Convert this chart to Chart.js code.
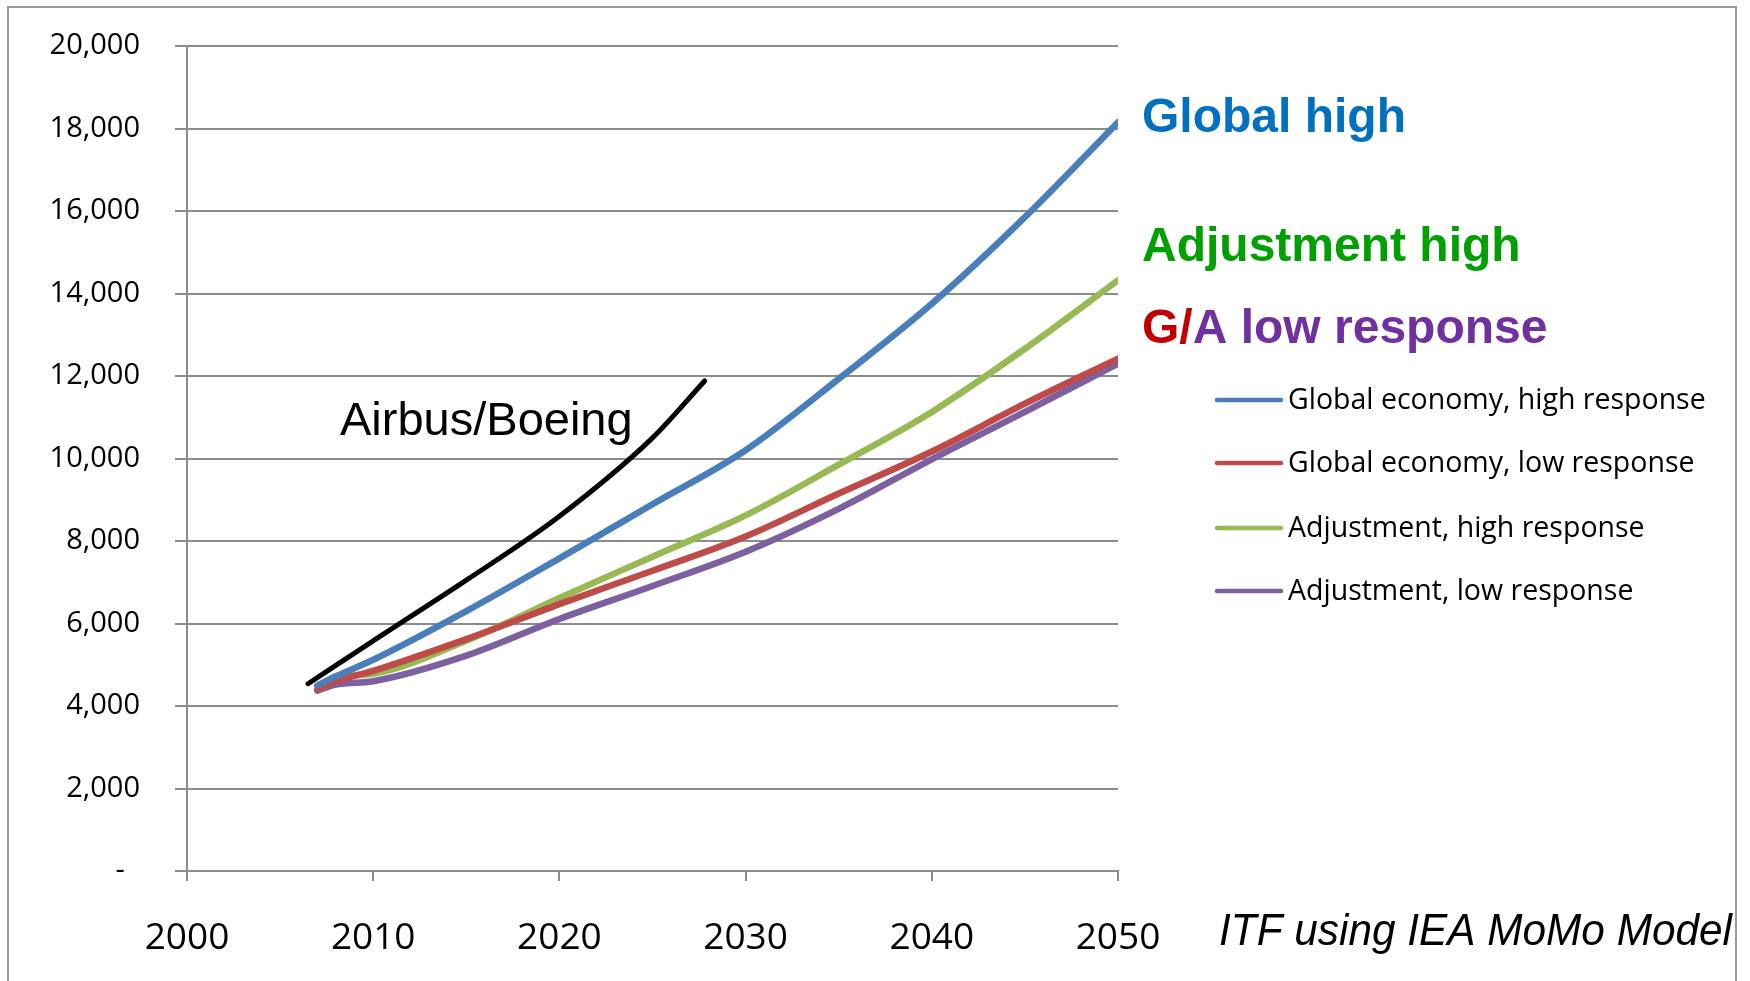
<!DOCTYPE html>
<html>
<head>
<meta charset="utf-8">
<script src="https://cdn.jsdelivr.net/npm/chart.js@4.4.1/dist/chart.umd.min.js"></script>
<style>
  html, body { margin: 0; background: #fff; }
  canvas { display: block; }
</style>
</head>
<body>
<canvas id="chart" width="1750" height="981"></canvas>
<script>
/* Aviation activity projections, 2007–2050 (Excel-style line chart) */

const AXIS = "#8c8c8c";

const years = [2007, 2008, 2010, 2015, 2020, 2025, 2030, 2035, 2040, 2045, 2050];
const globalHigh = [4500, 4720, 5120, 6300, 7580, 8890, 10200, 11930, 13750, 15850, 18150];
const globalLow = [4400, 4600, 4850, 5620, 6470, 7280, 8110, 9150, 10170, 11330, 12420];
const adjHigh = [4480, 4700, 4780, 5580, 6620, 7620, 8620, 9850, 11130, 12660, 14320];
const adjLow = [4370, 4520, 4600, 5220, 6110, 6910, 7740, 8780, 9980, 11130, 12300];

// Airbus/Boeing forecast, drawn as a separate black curve
const boeingYears = [2006.5, 2010, 2015, 2020, 2025, 2027.8];
const boeing = [4540, 5580, 7050, 8600, 10500, 11880];

const seriesLabels = [
  "Global economy, high response",
  "Global economy, low response",
  "Adjustment, high response",
  "Adjustment, low response",
];
const seriesColors = ["#4a7ebb", "#be4b48", "#98b954", "#7d60a0"];

const pts = (xs, ys) => xs.map((x, i) => ({ x, y: ys[i] }));

function line(label, data, color, width) {
  return {
    label,
    data,
    borderColor: color,
    backgroundColor: color,
    borderWidth: width,
    pointRadius: 0,
    cubicInterpolationMode: "monotone",
    borderCapStyle: "round",
    borderJoinStyle: "round",
  };
}

/* Frame, legend and the big coloured labels are drawn straight on the canvas */
const overlay = {
  id: "overlay",
  beforeDraw(chart) {
    const { ctx, width, height } = chart;
    ctx.save();
    ctx.fillStyle = "#fff";
    ctx.fillRect(0, 0, width, height);
    ctx.restore();
  },
  afterDraw(chart) {
    const ctx = chart.ctx;
    ctx.save();

    // slide frame
    ctx.strokeStyle = "#999";
    ctx.lineWidth = 2;
    ctx.strokeRect(8, 7, 1728, 1000);

    // legend
    ctx.font = '28.5px "Open Sans", sans-serif';
    ctx.textBaseline = "middle";
    ctx.lineCap = "round";
    const rows = [400, 463, 528, 591];
    chart.data.datasets.slice(0, 4).forEach((ds, i) => {
      ctx.strokeStyle = ds.borderColor;
      ctx.lineWidth = 4.5;
      ctx.beginPath();
      ctx.moveTo(1217, rows[i]);
      ctx.lineTo(1281, rows[i]);
      ctx.stroke();
      ctx.fillStyle = "#000";
      ctx.fillText(ds.label, 1288, rows[i] + 1);
    });

    // scenario labels
    ctx.textBaseline = "alphabetic";
    ctx.font = 'bold 48px "Liberation Sans", Arial, sans-serif';
    ctx.fillStyle = "#0070c0";
    ctx.fillText("Global high", 1142, 132);
    ctx.fillStyle = "#00a000";
    ctx.fillText("Adjustment high", 1142, 261);
    ctx.fillStyle = "#c00000";
    ctx.fillText("G/", 1142, 343);
    const gw = ctx.measureText("G/").width;
    ctx.fillStyle = "#7030a0";
    ctx.fillText("A low response", 1142 + gw, 343);

    ctx.font = '47px "Liberation Sans", Arial, sans-serif';
    ctx.fillStyle = "#000";
    ctx.fillText("Airbus/Boeing", 340, 435);

    // source note, slightly condensed like the original
    ctx.font = 'italic 44px "Liberation Sans", Arial, sans-serif';
    const src = "ITF using IEA MoMo Model";
    const sw = ctx.measureText(src).width;
    ctx.translate(1219, 945);
    ctx.scale(513 / sw, 1);
    ctx.fillText(src, 0, 0);

    ctx.restore();
  },
};

Chart.defaults.font.family = '"Open Sans", sans-serif';
Chart.defaults.color = "#000";

new Chart(document.getElementById("chart"), {
  type: "line",
  data: {
    datasets: [
      line(seriesLabels[0], pts(years, globalHigh), seriesColors[0], 6.5),
      line(seriesLabels[1], pts(years, globalLow), seriesColors[1], 6.5),
      line(seriesLabels[2], pts(years, adjHigh), seriesColors[2], 6.5),
      line(seriesLabels[3], pts(years, adjLow), seriesColors[3], 6.5),
      line("Airbus/Boeing", pts(boeingYears, boeing), "#000", 5),
    ],
  },
  options: {
    responsive: false,
    devicePixelRatio: 1,
    animation: false,
    layout: { padding: { left: 0, top: 46, right: 632, bottom: 0 } },
    plugins: { legend: { display: false }, tooltip: { enabled: false } },
    scales: {
      x: {
        type: "linear",
        min: 2000,
        max: 2050,
        afterFit: (s) => { s.height = 110; },
        ticks: {
          stepSize: 10,
          padding: 35,
          font: { size: 37 },
          callback: (v) => String(v),
        },
        grid: { drawOnChartArea: false, color: AXIS, lineWidth: 2, tickLength: 10 },
        border: { color: AXIS, width: 2 },
      },
      y: {
        min: 0,
        max: 20000,
        // the label gap would otherwise push the plot top down
        afterFit: (s) => { s.width = 187; s.paddingTop = 10; s.paddingBottom = 10; },
        ticks: {
          stepSize: 2000,
          padding: 35,
          font: { size: 29 },
          callback: (v) => (v === 0 ? "-  " : v.toLocaleString("en-US")),
        },
        grid: { color: AXIS, lineWidth: 2, tickLength: 12 },
        border: { color: AXIS, width: 2 },
      },
    },
  },
  plugins: [overlay],
});
</script>
</body>
</html>
